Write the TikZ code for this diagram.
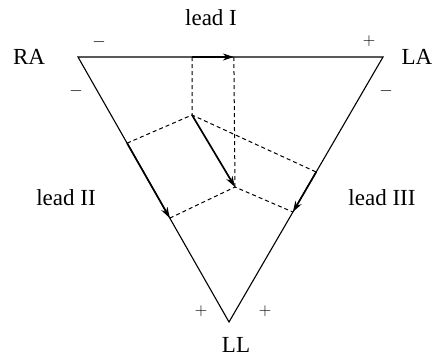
\documentclass[tikz,border=0pt]{standalone}
\usepackage{fontspec}
\setmainfont{Liberation Serif}
\usetikzlibrary{calc,arrows.meta}
\begin{document}
\begin{tikzpicture}[x=1pt,y=-1pt,
  side/.style={line width=1.1pt},
  vec/.style={line width=1.7pt,-{Stealth[length=11pt,width=7pt]}},
  proj/.style={line width=1pt,dash pattern=on 4pt off 3pt},
  lbl/.style={font=\fontsize{23}{26}\selectfont,inner sep=0pt},
  sgn/.style={font=\fontsize{19}{21}\selectfont,inner sep=0pt}]
\useasboundingbox (0,0) rectangle (438,357);
\coordinate (RA) at (78,57);
\coordinate (LA) at (383,57);
\coordinate (LL) at (229,322);
\coordinate (P) at (192,115);
\coordinate (Q) at (235,187);
\coordinate (T1) at ($(RA)!0.374!(LA)$);
\coordinate (T2) at ($(RA)!0.511!(LA)$);
\coordinate (L1) at ($(RA)!0.325!(LL)$);
\coordinate (L2) at ($(RA)!0.608!(LL)$);
\coordinate (R1) at ($(LA)!0.434!(LL)$);
\coordinate (R2) at ($(LA)!0.585!(LL)$);
% triangle
\draw[side,line join=miter] (RA) -- (LA) -- (LL) -- cycle;
% projection lines
\draw[proj] (T1) -- (P);
\draw[proj] (T2) -- (Q);
\draw[proj] (L1) -- (P) -- (R1);
\draw[proj] (L2) -- (Q) -- (R2);
% vectors
\draw[vec] (T1) -- (T2);
\draw[vec] (P) -- (Q);
\draw[vec] (L1) -- (L2);
\draw[vec] (R1) -- (R2);
% labels
\node[lbl] (nRA) at (29,57) {RA};
\node[lbl] (nLA) at (417,57) {LA};
\node[lbl] (nLL) at (236,345) {LL};
\node[lbl] (nI) at (211,18) {lead I};
\node[lbl] (nII) at (66,198) {lead II};
\node[lbl] (nIII) at (382,198) {lead III};
\node[sgn] (s1) at (99,42) {$-$};
\node[sgn] (s2) at (369,41) {$+$};
\node[sgn] (s3) at (76,91) {$-$};
\node[sgn] (s4) at (386,91) {$-$};
\node[sgn] (s5) at (201,311) {$+$};
\node[sgn] (s6) at (265,311) {$+$};
\end{tikzpicture}
\end{document}
